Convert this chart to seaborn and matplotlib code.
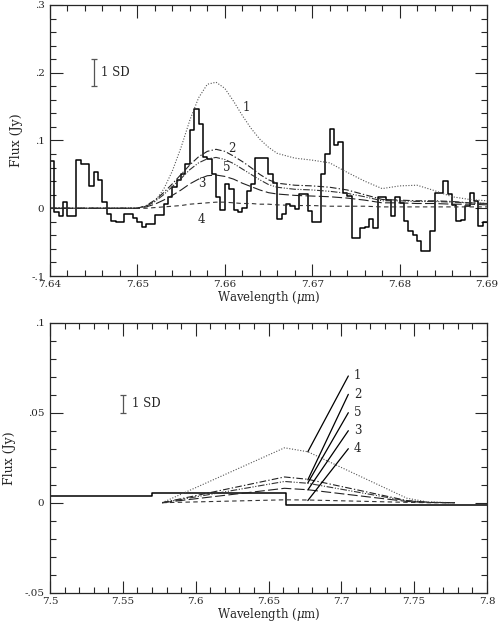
import numpy as np
import pandas as pd
import matplotlib
matplotlib.use("Agg")
import matplotlib.pyplot as plt
import seaborn as sns
from matplotlib.ticker import MultipleLocator, FuncFormatter

sns.set_style("ticks")
plt.rcParams['font.family'] = ['DejaVu Serif']
plt.rcParams['mathtext.fontset'] = 'dejavuserif'

# ---------------- top panel data ----------------
top_bin_start = 7.640
top_bin_width = 0.0005
top_obs_flux = [
    0.070, -0.006, -0.012, 0.009, -0.011, -0.011, 0.071, 0.066, 0.066, 0.033,
    0.053, 0.041, 0.009, -0.009, -0.019, -0.020, -0.020, -0.009, -0.009, -0.015,
    -0.021, -0.027, -0.023, -0.023, -0.010, -0.010, 0.006, 0.016, 0.031, 0.041,
    0.050, 0.065, 0.115, 0.147, 0.125, 0.075, 0.073, 0.050, 0.016, -0.002,
    0.036, 0.028, -0.002, -0.006, 0.000, 0.026, 0.036, 0.074, 0.074, 0.074,
    0.050, 0.037, -0.016, -0.009, 0.006, 0.003, -0.001, 0.021, 0.021, -0.004,
    -0.021, -0.021, 0.050, 0.080, 0.117, 0.093, 0.098, 0.023, 0.018, -0.044,
    -0.044, -0.029, -0.027, -0.016, -0.029, 0.016, 0.016, 0.012, -0.011, 0.016,
    0.008, -0.019, -0.033, -0.039, -0.049, -0.063, -0.063, -0.034, 0.022, 0.022,
    0.040, 0.021, 0.005, -0.019, -0.017, 0.003, 0.023, 0.010, -0.026, -0.020,
]

top_model_wl = [7.640, 7.645, 7.649, 7.650, 7.651, 7.652, 7.653, 7.654, 7.655, 7.656,
                7.657, 7.658, 7.659, 7.660, 7.661, 7.662, 7.663, 7.664, 7.665, 7.666,
                7.668, 7.670, 7.672, 7.674, 7.676, 7.678, 7.680, 7.682, 7.684, 7.686,
                7.688, 7.690]
top_model_1 = [0, 0, 0, 0.000, 0.003, 0.010, 0.028, 0.055, 0.090, 0.130, 0.163, 0.183,
               0.186, 0.177, 0.158, 0.137, 0.118, 0.102, 0.090, 0.081, 0.074, 0.071,
               0.067, 0.053, 0.040, 0.029, 0.033, 0.034, 0.026, 0.017, 0.013, 0.011]
top_model_2 = [0, 0, 0, 0.000, 0.004, 0.012, 0.023, 0.036, 0.050, 0.064, 0.076, 0.084,
               0.087, 0.084, 0.077, 0.069, 0.060, 0.050, 0.042, 0.037, 0.034, 0.033,
               0.031, 0.027, 0.020, 0.013, 0.012, 0.011, 0.011, 0.010, 0.008, 0.007]
top_model_5 = [0, 0, 0, 0.000, 0.003, 0.010, 0.020, 0.032, 0.044, 0.057, 0.067, 0.073,
               0.075, 0.072, 0.066, 0.058, 0.050, 0.042, 0.035, 0.031, 0.028, 0.027,
               0.025, 0.022, 0.017, 0.011, 0.011, 0.010, 0.010, 0.009, 0.008, 0.007]
top_model_3 = [0, 0, 0, 0.000, 0.002, 0.006, 0.012, 0.019, 0.027, 0.036, 0.043, 0.048,
               0.049, 0.047, 0.043, 0.037, 0.032, 0.027, 0.023, 0.021, 0.019, 0.018,
               0.017, 0.015, 0.012, 0.008, 0.008, 0.007, 0.007, 0.006, 0.006, 0.005]
top_model_4 = [0, 0, 0, 0.000, 0.000, 0.001, 0.002, 0.003, 0.004, 0.006, 0.007, 0.008,
               0.009, 0.009, 0.008, 0.007, 0.007, 0.006, 0.006, 0.005, 0.004, 0.004,
               0.003, 0.003, 0.003, 0.002, 0.002, 0.002, 0.002, 0.002, 0.002, 0.002]

top_labels = ["1", "2", "5", "3", "4"]
top_label_wl = [7.6620, 7.6604, 7.6598, 7.6569, 7.6569]
top_label_flux = [0.149, 0.088, 0.060, 0.036, -0.016]
top_sd_wl = 7.645
top_sd_lo, top_sd_hi = 0.18, 0.22

# ---------------- bottom panel data ----------------
bot_obs_edges = [7.478, 7.570, 7.662, 7.755, 7.846]
bot_obs_flux = [0.0037, 0.0052, -0.0013, -0.0010]

bot_model_wl = [7.577, 7.661, 7.677, 7.745, 7.760, 7.778]
bot_model_1 = [0.0, 0.0305, 0.0283, 0.0025, 0.0003, 0.0]
bot_model_2 = [0.0, 0.0143, 0.0130, 0.0012, 0.0002, 0.0]
bot_model_5 = [0.0, 0.0118, 0.0108, 0.0010, 0.0002, 0.0]
bot_model_3 = [0.0, 0.0080, 0.0072, 0.0007, 0.0001, 0.0]
bot_model_4 = [0.0, 0.0016, 0.0015, 0.0002, 0.0000, 0.0]

bot_labels = ["1", "2", "5", "3", "4"]
bot_leader_start_wl = 7.677
bot_leader_start_flux = [0.0283, 0.0127, 0.0110, 0.0071, 0.0012]
bot_leader_end_wl = 7.7048
bot_leader_end_flux = [0.0704, 0.0602, 0.0500, 0.0400, 0.0300]
bot_label_wl = 7.7085
bot_sd_wl = 7.550
bot_sd_lo, bot_sd_hi = 0.050, 0.060

styles = {
    "1": dict(linestyle=(0, (1, 1.5)), color="#555555", linewidth=0.8),
    "2": dict(linestyle=(0, (6, 2, 1.2, 2)), color="#222222", linewidth=0.8),
    "5": dict(linestyle=(0, (6, 1.5, 1, 1.5, 1, 1.5)), color="#333333", linewidth=0.8),
    "3": dict(linestyle=(0, (9, 3)), color="#222222", linewidth=0.8),
    "4": dict(linestyle=(0, (4, 3)), color="#333333", linewidth=0.8),
}

W, H = 498, 622
fig = plt.figure(figsize=(W / 100, H / 100), dpi=100)
ax1 = fig.add_axes([50 / W, 1 - 276 / H, 437 / W, 271 / H])
ax2 = fig.add_axes([50 / W, 1 - 592.7 / H, 437 / W, 270 / H])

def fmt_tick(v, pos):
    if abs(v) < 1e-9:
        return "0"
    s = f"{v:.2f}".rstrip("0").rstrip(".")
    s = s.replace("0.", ".", 1) if s.startswith("0.") else s.replace("-0.", "-.", 1)
    return s

# top histogram
n = len(top_obs_flux)
edges = top_bin_start + top_bin_width * np.arange(n + 1)
df_obs = pd.DataFrame({"wl": edges, "flux": list(top_obs_flux) + [top_obs_flux[-1]]})
sns.lineplot(data=df_obs, x="wl", y="flux", ax=ax1, drawstyle="steps-post",
             color="black", linewidth=1.1, estimator=None, sort=False)

top_models = {"1": top_model_1, "2": top_model_2, "5": top_model_5,
              "3": top_model_3, "4": top_model_4}
for k, vals in top_models.items():
    d = pd.DataFrame({"wl": top_model_wl, "flux": vals})
    sns.lineplot(data=d, x="wl", y="flux", ax=ax1, estimator=None, sort=False, **styles[k])

for lab, xw, yf in zip(top_labels, top_label_wl, top_label_flux):
    ax1.text(xw, yf, lab, fontsize=8.5, ha="left", va="center")

ax1.errorbar([top_sd_wl], [(top_sd_lo + top_sd_hi) / 2], yerr=[(top_sd_hi - top_sd_lo) / 2],
             fmt="none", ecolor="#555555", elinewidth=0.9, capsize=2.5, capthick=0.9)
ax1.text(top_sd_wl + 0.0008, (top_sd_lo + top_sd_hi) / 2, "1 SD", fontsize=8.5, va="center")

ax1.set_xlim(7.64, 7.69)
ax1.set_ylim(-0.1, 0.3)
ax1.xaxis.set_major_locator(MultipleLocator(0.01))
ax1.xaxis.set_minor_locator(MultipleLocator(0.002))
ax1.yaxis.set_major_locator(MultipleLocator(0.1))
ax1.yaxis.set_minor_locator(MultipleLocator(0.02))
ax1.xaxis.set_major_formatter(FuncFormatter(lambda v, p: f"{v:.2f}"))
ax1.yaxis.set_major_formatter(FuncFormatter(fmt_tick))

# bottom histogram
df_b = pd.DataFrame({"wl": bot_obs_edges, "flux": list(bot_obs_flux) + [bot_obs_flux[-1]]})
sns.lineplot(data=df_b, x="wl", y="flux", ax=ax2, drawstyle="steps-post",
             color="black", linewidth=1.1, estimator=None, sort=False)

bot_models = {"1": bot_model_1, "2": bot_model_2, "5": bot_model_5,
              "3": bot_model_3, "4": bot_model_4}
for k, vals in bot_models.items():
    d = pd.DataFrame({"wl": bot_model_wl, "flux": vals})
    sns.lineplot(data=d, x="wl", y="flux", ax=ax2, estimator=None, sort=False, **styles[k])

for lab, y0, y1 in zip(bot_labels, bot_leader_start_flux, bot_leader_end_flux):
    ax2.plot([bot_leader_start_wl, bot_leader_end_wl], [y0, y1], color="black", linewidth=0.9)
    ax2.text(bot_label_wl, y1, lab, fontsize=8.5, ha="left", va="center")

ax2.errorbar([bot_sd_wl], [(bot_sd_lo + bot_sd_hi) / 2], yerr=[(bot_sd_hi - bot_sd_lo) / 2],
             fmt="none", ecolor="#555555", elinewidth=0.9, capsize=2.5, capthick=0.9)
ax2.text(bot_sd_wl + 0.0065, (bot_sd_lo + bot_sd_hi) / 2, "1 SD", fontsize=8.5, va="center")

ax2.set_xlim(7.5, 7.8)
ax2.set_ylim(-0.05, 0.1)
ax2.xaxis.set_major_locator(MultipleLocator(0.05))
ax2.xaxis.set_minor_locator(MultipleLocator(0.01))
ax2.yaxis.set_major_locator(MultipleLocator(0.05))
ax2.yaxis.set_minor_locator(MultipleLocator(0.01))
ax2.xaxis.set_major_formatter(FuncFormatter(lambda v, p: f"{v:.2f}".rstrip("0").rstrip(".")))
ax2.yaxis.set_major_formatter(FuncFormatter(fmt_tick))

for ax in (ax1, ax2):
    ax.set_xlabel(r"Wavelength ($\mu$m)", fontsize=8.5, labelpad=0)
    ax.set_ylabel("Flux (Jy)", fontsize=9, labelpad=6)
    ax.tick_params(which="both", direction="in", top=True, right=True, labelsize=7.5,
                   width=0.8)
    ax.tick_params(axis="x", which="major", pad=3.2)
    ax.tick_params(axis="y", which="major", pad=4)
    ax.tick_params(which="major", length=9)
    ax.tick_params(which="minor", length=4.5)
    for s in ax.spines.values():
        s.set_linewidth(0.9)
        s.set_visible(True)

fig.savefig("out.png", dpi=100)
